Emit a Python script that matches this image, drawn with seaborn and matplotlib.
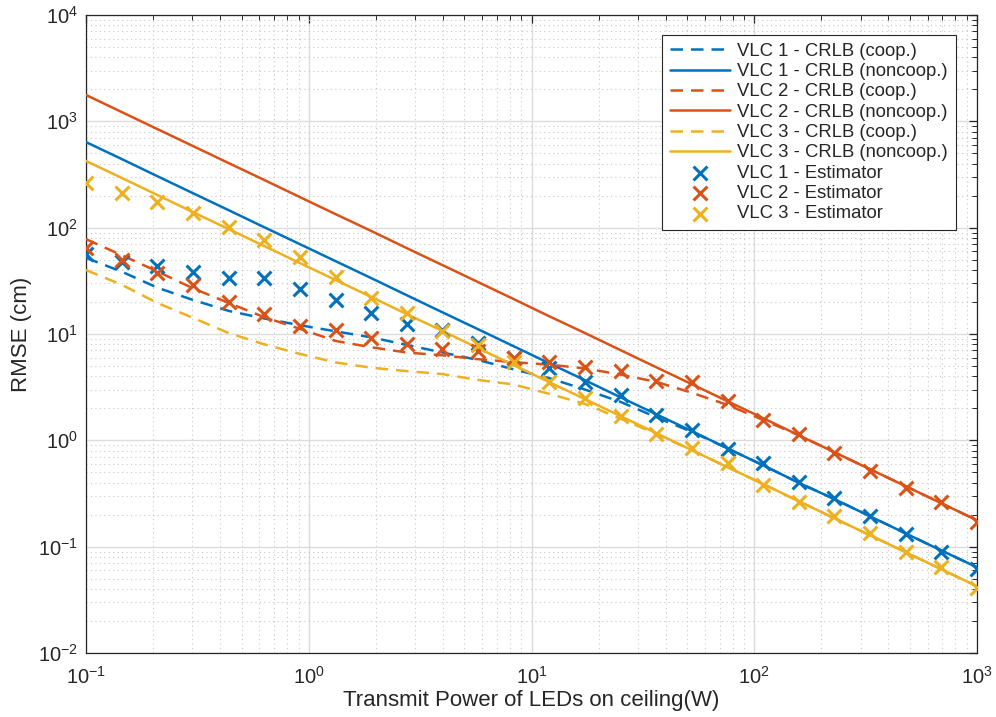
import matplotlib
matplotlib.use("Agg")
import matplotlib.pyplot as plt
import matplotlib.ticker as mticker
import seaborn as sns
import pandas as pd

# ---------------- data ----------------
power_w = [0.1, 0.145, 0.209, 0.302, 0.437, 0.631, 0.912, 1.32, 1.91, 2.75,
           3.98, 5.75, 8.32, 12.0, 17.4, 25.1, 36.3, 52.5, 75.9, 110,
           158, 229, 331, 479, 692, 1000]

vlc1_crlb_coop = [52, 38.5, 27.3, 20.9, 16.5, 14.0, 12.1, 10.6, 9.3, 7.9,
                  6.7, 5.7, 4.65, 3.85, 3.0, 2.3, 1.65, 1.2, 0.84, 0.58,
                  0.40, 0.28, 0.193, 0.133, 0.092, 0.064]
vlc1_crlb_noncoop = [638, 441, 305, 211, 146, 101, 70, 48.4, 33.5, 23.2,
                     16.0, 11.1, 7.67, 5.31, 3.67, 2.54, 1.76, 1.22, 0.84, 0.58,
                     0.40, 0.28, 0.193, 0.133, 0.092, 0.064]
vlc2_crlb_coop = [78, 55, 38.8, 26.9, 19.6, 14.4, 11.2, 8.6, 7.5, 6.7,
                  6.3, 5.8, 5.43, 5.15, 4.75, 4.15, 3.55, 2.8, 2.15, 1.55,
                  1.12, 0.773, 0.535, 0.370, 0.256, 0.177]
vlc2_crlb_noncoop = [1770, 1220, 846, 586, 405, 281, 194, 134, 93, 64.3,
                     44.5, 30.8, 21.3, 14.7, 10.2, 7.05, 4.87, 3.37, 2.33, 1.61,
                     1.12, 0.773, 0.535, 0.370, 0.256, 0.177]
vlc3_crlb_coop = [40, 29, 19.6, 14.2, 10.2, 8.0, 6.5, 5.4, 4.82, 4.48,
                  4.2, 3.7, 3.35, 2.74, 2.2, 1.6, 1.15, 0.808, 0.559, 0.387,
                  0.268, 0.185, 0.128, 0.0886, 0.0613, 0.0424]
vlc3_crlb_noncoop = [424, 293, 203, 140, 97, 67.2, 46.5, 32.2, 22.3, 15.4,
                     10.7, 7.37, 5.10, 3.53, 2.44, 1.69, 1.17, 0.808, 0.559, 0.387,
                     0.268, 0.185, 0.128, 0.0886, 0.0613, 0.0424]

vlc1_est = [57, 47.8, 43.5, 38, 33.4, 33.7, 26.4, 20.8, 15.6, 12.4,
            10.9, 8.2, 6.0, 4.75, 3.5, 2.66, 1.73, 1.24, 0.82, 0.61,
            0.41, 0.288, 0.194, 0.131, 0.089, 0.061]
vlc2_est = [64, 49.6, 37.2, 28.8, 19.8, 15.4, 11.9, 10.8, 9.2, 8.0,
            7.2, 6.95, 5.9, 5.5, 4.9, 4.5, 3.65, 3.5, 2.35, 1.57,
            1.14, 0.76, 0.51, 0.36, 0.264, 0.171]
vlc3_est = [264, 213, 175, 136, 102, 76, 53, 34.5, 21.9, 15.6,
            10.7, 7.8, 5.4, 3.5, 2.5, 1.7, 1.14, 0.84, 0.607, 0.379,
            0.264, 0.194, 0.133, 0.089, 0.0646, 0.0413]

x_ticks = [0.1, 1, 10, 100, 1000]
y_ticks = [1e-2, 1e-1, 1, 10, 100, 1000, 1e4]

labels_lines = ["VLC 1 - CRLB (coop.)", "VLC 1 - CRLB (noncoop.)",
                "VLC 2 - CRLB (coop.)", "VLC 2 - CRLB (noncoop.)",
                "VLC 3 - CRLB (coop.)", "VLC 3 - CRLB (noncoop.)"]
labels_est = ["VLC 1 - Estimator", "VLC 2 - Estimator", "VLC 3 - Estimator"]

# ---------------- style ----------------
sns.set_theme(style="white")
plt.rcParams["font.family"] = ["Liberation Sans", "DejaVu Sans"]
plt.rcParams["mathtext.fontset"] = "custom"
plt.rcParams["mathtext.rm"] = "Liberation Sans"
plt.rcParams["mathtext.it"] = "Liberation Sans:italic"
plt.rcParams["mathtext.bf"] = "Liberation Sans:bold"

c1, c2, c3 = "#0072BD", "#D95319", "#EDB120"
dash = (5, 3.2)
lw = 1.8
txt = "#262626"

fig = plt.figure(figsize=(9.96, 7.17), dpi=100)
ax = fig.add_axes([86 / 996, 1 - 653 / 717, (977 - 86) / 996, (653 - 15) / 717])

line_series = [
    (vlc1_crlb_coop, c1, True), (vlc1_crlb_noncoop, c1, False),
    (vlc2_crlb_coop, c2, True), (vlc2_crlb_noncoop, c2, False),
    (vlc3_crlb_coop, c3, True), (vlc3_crlb_noncoop, c3, False),
]
for (vals, col, dashed), lab in zip(line_series, labels_lines):
    df = pd.DataFrame({"x": power_w, "y": vals})
    if dashed:
        sns.lineplot(data=df, x="x", y="y", ax=ax, color=col, lw=lw,
                     dashes=dash, label=lab, zorder=3)
    else:
        sns.lineplot(data=df, x="x", y="y", ax=ax, color=col, lw=lw,
                     label=lab, zorder=3)

for vals, col, lab in zip([vlc1_est, vlc2_est, vlc3_est], [c1, c2, c3], labels_est):
    df = pd.DataFrame({"x": power_w, "y": vals})
    sns.scatterplot(data=df, x="x", y="y", ax=ax, color=col, marker="x",
                    s=100, linewidth=2.2, label=lab, zorder=4)

ax.set_xscale("log")
ax.set_yscale("log")
ax.set_xlim(0.1, 1000)
ax.set_ylim(1e-2, 1e4)

ax.xaxis.set_major_locator(mticker.FixedLocator(x_ticks))
ax.yaxis.set_major_locator(mticker.FixedLocator(y_ticks))
ax.xaxis.set_major_formatter(mticker.LogFormatterSciNotation())
ax.yaxis.set_major_formatter(mticker.LogFormatterSciNotation())
ax.xaxis.set_minor_locator(mticker.LogLocator(base=10, subs=range(2, 10), numticks=20))
ax.yaxis.set_minor_locator(mticker.LogLocator(base=10, subs=range(2, 10), numticks=20))
ax.xaxis.set_minor_formatter(mticker.NullFormatter())
ax.yaxis.set_minor_formatter(mticker.NullFormatter())

ax.grid(True, which="major", color="#dcdcdc", lw=1.0, ls="-", zorder=0)
ax.grid(True, which="minor", color="#c8c8c8", lw=0.8, ls=(0, (1, 3)), zorder=0)
ax.set_axisbelow(True)

for sp in ax.spines.values():
    sp.set_color(txt)
    sp.set_linewidth(0.9)
    sp.set_visible(True)

ax.tick_params(which="both", direction="in", top=True, right=True,
               color=txt, labelcolor=txt)
ax.tick_params(which="major", length=6, width=0.9, labelsize=14.5)
ax.tick_params(axis="x", which="major", pad=9)
ax.tick_params(axis="y", which="major", pad=6)
ax.tick_params(which="minor", length=3.5, width=0.7)

ax.set_xlabel("Transmit Power of LEDs on ceiling(W)", fontsize=16,
              color=txt, labelpad=2)
ax.set_ylabel("RMSE (cm)", fontsize=16, color=txt, labelpad=4)

leg = ax.legend(loc="upper right", bbox_to_anchor=(956 / 996, 1 - 35 / 717),
                bbox_transform=fig.transFigure,
                fontsize=13.3, frameon=True, fancybox=False, framealpha=1,
                edgecolor=txt, handlelength=3.3, handletextpad=0.38,
                labelspacing=0.18, borderpad=0.42, borderaxespad=0)
leg.get_frame().set_linewidth(0.8)
for t in leg.get_texts():
    t.set_color(txt)

fig.savefig("out.png", dpi=100, facecolor="white")
